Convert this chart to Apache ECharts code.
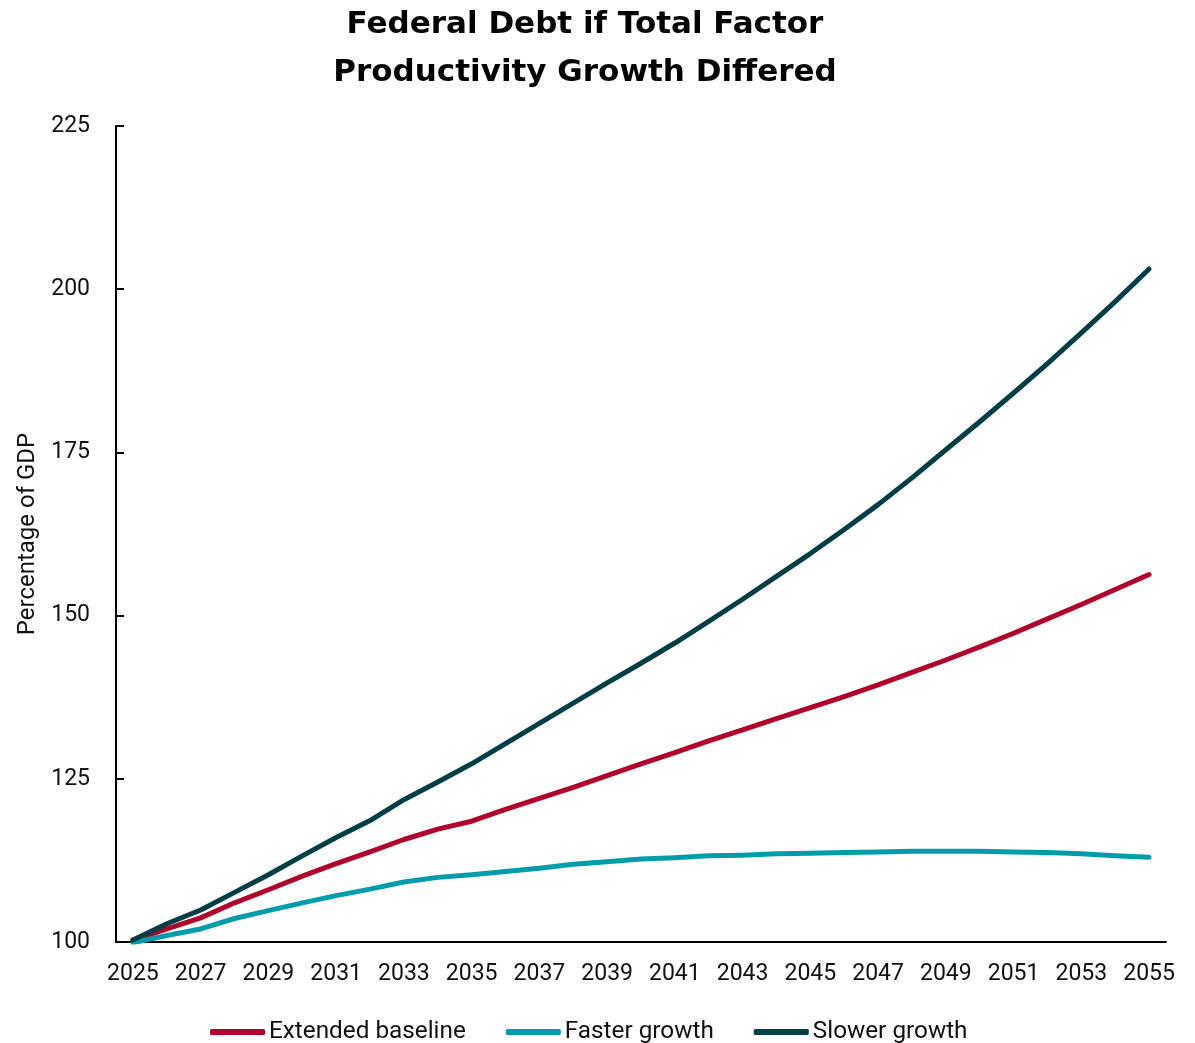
<!DOCTYPE html>
<html>
<head>
<meta charset="utf-8">
<script src="https://cdn.jsdelivr.net/npm/echarts@6/dist/echarts.min.js"></script>
<style>
html,body{margin:0;padding:0;background:#fff;}
#chart{width:1195px;height:1043px;}
</style>
</head>
<body>
<div id="chart"></div>
<script>
var years = [];
for (var y = 2025; y <= 2055; y++) years.push(String(y));

var extendedBaseline = [100.3, 102.0, 103.7, 106.0, 108.0, 110.1, 112.0, 113.8, 115.7, 117.3,
  118.5, 120.3, 122.0, 123.7, 125.5, 127.3, 129.0, 130.8, 132.5, 134.2,
  135.9, 137.6, 139.4, 141.3, 143.2, 145.2, 147.3, 149.5, 151.7, 154.0, 156.3];

var fasterGrowth = [99.9, 101.0, 102.0, 103.6, 104.8, 106.0, 107.1, 108.1, 109.2, 109.9,
  110.3, 110.8, 111.3, 111.9, 112.3, 112.7, 112.9, 113.2, 113.3, 113.5,
  113.6, 113.7, 113.8, 113.9, 113.9, 113.9, 113.8, 113.7, 113.5, 113.2, 113.0];

var slowerGrowth = [100.3, 102.8, 104.9, 107.6, 110.3, 113.2, 116.0, 118.6, 121.8, 124.5,
  127.3, 130.4, 133.5, 136.6, 139.7, 142.7, 145.8, 149.1, 152.5, 156.0,
  159.5, 163.2, 167.0, 171.1, 175.4, 179.7, 184.1, 188.6, 193.3, 198.1, 203.1];

var seriesNames = ['Extended baseline', 'Faster growth', 'Slower growth'];
var colors = ['#b0002c', '#009ca9', '#003e45'];
var yTicks = { min: 100, max: 225, interval: 25 };

var chart = echarts.init(document.getElementById('chart'));
var font = 'Roboto, "Noto Sans", sans-serif';

function mk(name, data, color) {
  return {
    name: name, type: 'line', data: data, symbol: 'none', smooth: false,
    lineStyle: { color: color, width: 5, cap: 'round', join: 'round' },
    itemStyle: { color: color },
    animation: false
  };
}

chart.setOption({
  animation: false,
  color: colors,
  title: {
    text: 'Federal Debt if Total Factor\nProductivity Growth Differed',
    left: 585, top: 1, textAlign: 'center', padding: 0,
    textStyle: { fontFamily: '"DejaVu Sans", sans-serif', fontWeight: 'bold', fontSize: 31, lineHeight: 48, color: '#000' }
  },
  grid: { left: 116, right: 29, top: 126, bottom: 101, containLabel: false },
  legend: {
    data: seriesNames,
    top: 1015, left: 205,
    itemWidth: 55, itemHeight: 6, itemGap: 40,
    icon: 'roundRect',
    textStyle: { fontFamily: font, fontSize: 24.3, color: '#111', padding: [0, 0, 0, -1] }
  },
  xAxis: {
    type: 'category', data: years, boundaryGap: true,
    axisLine: { lineStyle: { color: '#000', width: 2 } },
    axisTick: { inside: true, length: 8, interval: 1, lineStyle: { color: '#000', width: 2 } },
    axisLabel: { interval: 1, margin: 21, fontFamily: font, fontSize: 23, color: '#111' },
    splitLine: { show: false }
  },
  yAxis: {
    type: 'value', min: yTicks.min, max: yTicks.max, interval: yTicks.interval,
    name: 'Percentage of GDP', nameLocation: 'middle', nameRotate: 90, nameGap: 76,
    nameTextStyle: { fontFamily: font, fontSize: 24, color: '#111' },
    axisLine: { show: true, lineStyle: { color: '#000', width: 2 } },
    axisTick: { show: true, inside: true, length: 8, lineStyle: { color: '#000', width: 2 } },
    axisLabel: { margin: 26, fontFamily: font, fontSize: 23, color: '#111' },
    splitLine: { show: false }
  },
  series: [
    mk(seriesNames[0], extendedBaseline, colors[0]),
    mk(seriesNames[1], fasterGrowth, colors[1]),
    mk(seriesNames[2], slowerGrowth, colors[2])
  ]
});
</script>
</body>
</html>
